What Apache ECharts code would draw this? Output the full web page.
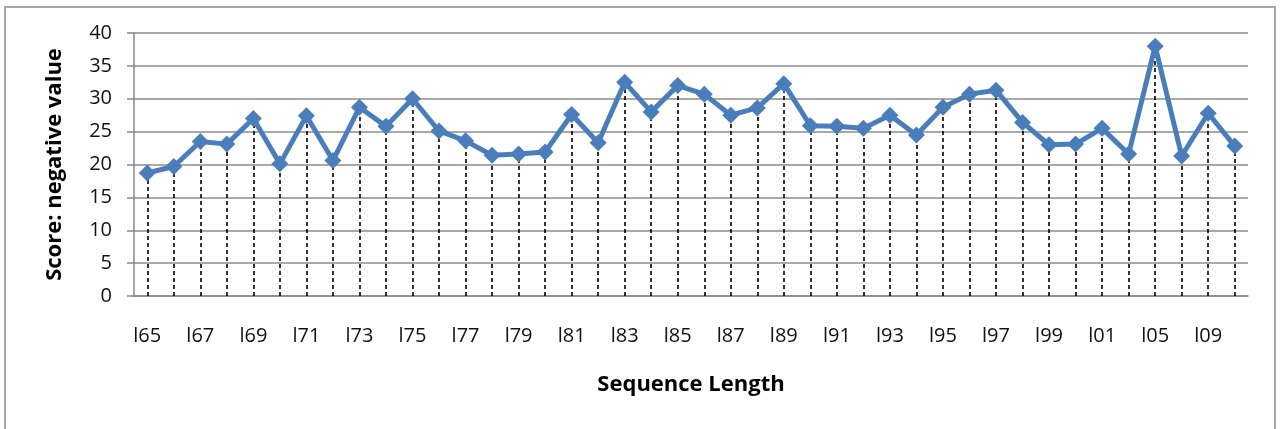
<!DOCTYPE html>
<html>
<head>
<meta charset="utf-8">
<script src="https://cdn.jsdelivr.net/npm/echarts@6/dist/echarts.min.js"></script>
<style>
html,body{margin:0;padding:0;background:#fff;}
#c{width:1282px;height:429px;}
</style>
</head>
<body>
<div id="c"></div>
<script>
const categories = ['l65','l66','l67','l68','l69','l70','l71','l72','l73','l74','l75','l76','l77','l78','l79','l80','l81','l82','l83','l84','l85','l86','l87','l88','l89','l90','l91','l92','l93','l94','l95','l96','l97','l98','l99','l00','l01','l03','l05','l07','l09','l10'];
const scores = [18.7,19.7,23.5,23.1,27.0,20.1,27.4,20.6,28.7,25.8,30.0,25.1,23.6,21.4,21.6,21.9,27.6,23.3,32.5,28.0,32.0,30.7,27.5,28.6,32.3,25.9,25.8,25.5,27.5,24.5,28.7,30.7,31.3,26.4,23.0,23.1,25.5,21.6,38.0,21.3,27.8,22.8];
const yTicks = {min: 0, max: 40, interval: 5};
const xTitle = 'Sequence Length';
const yTitle = 'Score: negative value';

const dropLines = scores.map((v, i) => [{xAxis: i, yAxis: 0}, {xAxis: i, yAxis: v}]);

const chart = echarts.init(document.getElementById('c'));
chart.setOption({
  animation: false,
  backgroundColor: '#fff',
  graphic: [{
    type: 'rect', z: -1, silent: true,
    shape: {x: 5, y: 7, width: 1270, height: 440},
    style: {fill: '#fff', stroke: '#a6a6a6', lineWidth: 2}
  }],
  grid: {left: 134, right: 34, top: 33, bottom: 133},
  xAxis: {
    type: 'category',
    data: categories,
    boundaryGap: true,
    name: xTitle,
    nameLocation: 'middle',
    nameGap: 78,
    nameTextStyle: {fontFamily: 'Open Sans', fontWeight: 'bold', fontSize: 22, color: '#000'},
    axisLine: {lineStyle: {color: '#888', width: 1.5}},
    axisTick: {show: false},
    axisLabel: {interval: 1, fontFamily: 'Open Sans', fontSize: 20, color: '#111', margin: 30},
    splitLine: {show: false}
  },
  yAxis: {
    type: 'value',
    min: yTicks.min, max: yTicks.max, interval: yTicks.interval,
    name: yTitle,
    nameLocation: 'middle',
    nameGap: 68,
    nameTextStyle: {fontFamily: 'Open Sans', fontWeight: 'bold', fontSize: 22, color: '#000'},
    axisLine: {show: true, lineStyle: {color: '#888', width: 1.5}},
    axisTick: {show: true, length: 7, lineStyle: {color: '#888', width: 1.5}},
    axisLabel: {fontFamily: 'Open Sans', fontSize: 20, color: '#111', margin: 22},
    splitLine: {lineStyle: {color: '#8c8c8c', width: 1.5}}
  },
  series: [{
    type: 'line',
    data: scores,
    symbol: 'diamond',
    symbolSize: 17,
    lineStyle: {color: '#4a7ebb', width: 5},
    itemStyle: {color: '#4a7ebb'},
    z: 3,
    markLine: {
      silent: true,
      symbol: 'none',
      label: {show: false},
      lineStyle: {color: '#000', type: [4, 3], width: 1.6},
      data: dropLines,
      z: 2
    }
  }]
});
</script>
</body>
</html>
